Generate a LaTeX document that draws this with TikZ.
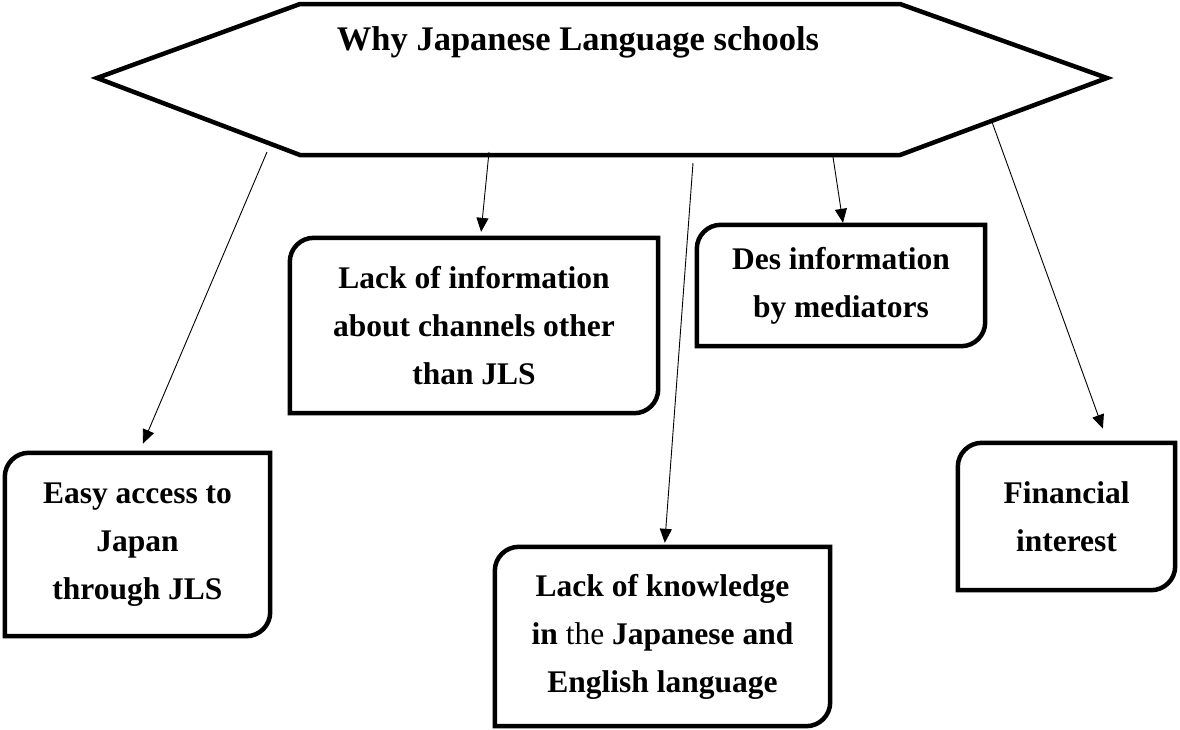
\documentclass[tikz,border=0pt]{standalone}
\usepackage{fontspec}
\setmainfont{Liberation Serif}
\usetikzlibrary{arrows.meta}
\newcommand{\rad}{24pt}
\newcommand{\cornerframe}[1]{\draw[frame] (#1.south west) -- ([yshift=-\rad]#1.north west) arc[start angle=180, end angle=90, radius=\rad] -- (#1.north east) -- ([yshift=\rad]#1.south east) arc[start angle=0, end angle=-90, radius=\rad] -- cycle;}
\tikzset{
  frame/.style={line width=4.5pt},
  reason/.style={inner sep=0pt, align=center, font=\fontsize{31.5}{48}\selectfont\bfseries},
  link/.style={line width=0.9pt, -{Triangle[length=14pt,width=12pt]}}
}
\begin{document}
\begin{tikzpicture}[x=1pt,y=1pt]
      \useasboundingbox (0,0) rectangle (1180,-729);
      \draw[frame] (300,-4) -- (900,-4) -- (1107,-78) -- (900,-155) -- (300,-155) -- (97,-78) -- cycle;
      \node[anchor=base, font=\fontsize{34.5}{40}\selectfont\bfseries] (why) at (578,-50) {Why Japanese Language schools};
      \node[reason, minimum width=265pt, minimum height=183pt] (easy) at (137.5,-544.5) {Easy access to\\Japan\\through JLS};
      \node[reason, minimum width=368pt, minimum height=175pt] (info) at (474,-325.5) {Lack of information\\about channels other\\than JLS};
      \node[reason, minimum width=335pt, minimum height=179pt] (know) at (662.5,-636.5) {Lack of knowledge\\in \mdseries the \bfseries Japanese and\\English language};
      \node[reason, minimum width=288pt, minimum height=121pt] (des) at (841,-285.5) {Des information\\by mediators};
      \node[reason, minimum width=217pt, minimum height=147pt] (money) at (1066.5,-516.5) {Financial\\interest};
      \cornerframe{easy}
      \cornerframe{info}
      \cornerframe{know}
      \cornerframe{des}
      \cornerframe{money}
      \coordinate (s1) at (267,-152);
      \coordinate (s2) at (489,-152);
      \coordinate (s3) at (693,-163);
      \coordinate (s4) at (833,-157);
      \coordinate (s5) at (992,-122);
      \draw[link, shorten >=10pt] (s1) -- ([xshift=1.5pt]easy.north);
      \draw[link, shorten >=6pt] (s2) -- ([xshift=6.5pt]info.north);
      \draw[link, shorten >=4pt] (s3) -- ([xshift=2pt]know.north);
      \draw[link, shorten >=2pt] (s4) -- ([xshift=2.3pt]des.north);
      \draw[link, shorten >=15pt] (s5) -- ([xshift=41.5pt]money.north);
\end{tikzpicture}
\end{document}
